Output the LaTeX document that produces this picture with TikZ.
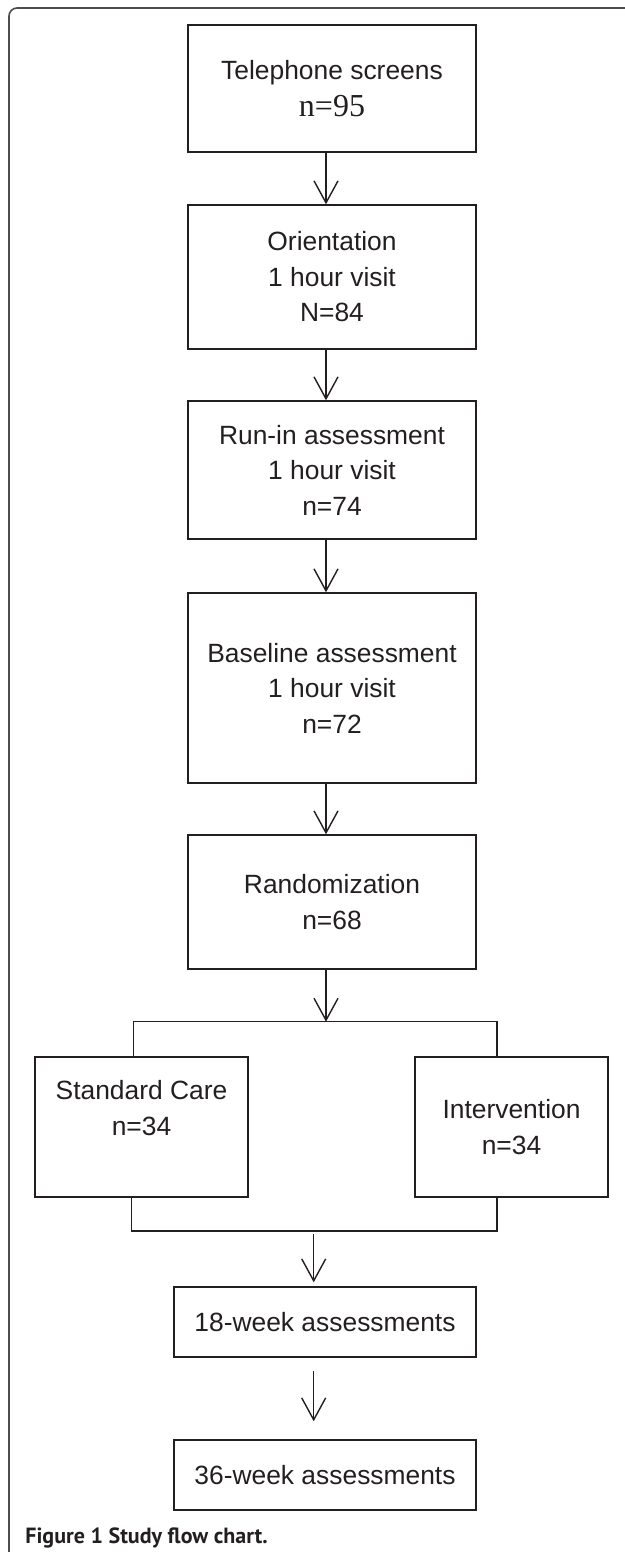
\documentclass[tikz,border=0pt]{standalone}
\usepackage{fontspec}
\setmainfont{Liberation Sans}
\newfontfamily\serifn{Liberation Serif}
\newfontfamily\capfont{PT Sans}
\usetikzlibrary{arrows.meta}
\definecolor{ink}{HTML}{231F20}
\definecolor{framegray}{HTML}{4D4D4F}
\begin{document}
\begin{tikzpicture}[x=0.5pt,y=-0.5pt,>={Straight Barb[length=11pt,width=12pt]},
  box/.style={draw=ink,line width=0.7pt,text=ink,align=center,inner sep=0pt,
    font=\fontsize{13.2}{17.75}\selectfont},
  link/.style={draw=ink,line width=0.7pt}]
\useasboundingbox (0,0) rectangle (625,1552);
% frame of the figure panel
\draw[framegray,line width=0.8pt,rounded corners=4pt] (9,1552) -- (9,8) -- (625,8);

% main column
\node[box,minimum width=144pt,minimum height=63.5pt] (tel) at (332,88.5)
  {Telephone screens\\[0.5pt]{\serifn\fontsize{16}{18}\selectfont n=95}};
\node[box,minimum width=144pt,minimum height=72pt] (ori) at (332,277)
  {Orientation\\1 hour visit\\N=84};
\node[box,minimum width=144pt,minimum height=69pt] (run) at (332,470)
  {Run-in assessment\\1 hour visit\\n=74};
\node[box,minimum width=144pt,minimum height=95pt] (base) at (332,688)
  {Baseline assessment\\1 hour visit\\n=72};
\node[box,minimum width=144pt,minimum height=67pt] (rand) at (332,902)
  {Randomization\\n=68};

% the two arms
\node[box,minimum width=106.5pt,minimum height=70pt,
  label={[align=center,anchor=north,inner sep=0pt,yshift=-12pt,text=ink,
    font=\fontsize{13.2}{17.75}\selectfont]north:Standard Care\\n=34}] (std) at (141.5,1127) {};
\node[box,minimum width=96.5pt,minimum height=70pt] (int) at (511.5,1127)
  {Intervention\\n=34};

% follow-up
\node[box,minimum width=151pt,minimum height=35pt] (w18) at (325,1322) {18-week assessments};
\node[box,minimum width=151pt,minimum height=35pt] (w36) at (325,1475) {36-week assessments};

\coordinate (split) at (326,1021.7);
\coordinate (splitL) at (133.5,1021.7);
\coordinate (splitR) at (497,1021.7);
\coordinate (joinL) at (131.5,1231);
\coordinate (joinR) at (497,1231);
\coordinate (join) at (313.7,1234);

\foreach \a/\b in {tel/ori,ori/run,run/base,base/rand} {
    \draw[link,->] (\a.south -| split) -- (\b.north -| split);
}
\draw[link,->] (rand.south -| split) -- (split);
\draw[link] (splitL |- std.north) -- (splitL) -- (splitR) -- (splitR |- int.north);
\draw[link] (joinL |- std.south) -- (joinL) -- (joinR) -- (joinR |- int.south);
\draw[link,->,shorten >=2pt] (join) -- (join |- w18.north);
\draw[link,->,shorten <=6.5pt,shorten >=9pt] (w18.south -| join) -- (w36.north -| join);

\node[anchor=base west,inner sep=0pt,text=ink,
  font=\capfont\bfseries\fontsize{11}{13}\selectfont] (caption) at (25,1543)
  {Figure 1 Study flow chart.};
\end{tikzpicture}
\end{document}
